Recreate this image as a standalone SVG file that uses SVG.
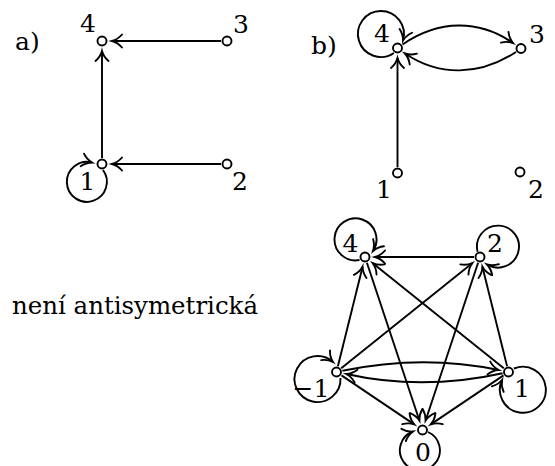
<svg xmlns="http://www.w3.org/2000/svg" width="555" height="466" viewBox="0 0 555 466">
<style>
text{font-family:"DejaVu Serif",serif;font-size:25px;fill:#000}
.lbl{text-anchor:middle}
.e{fill:none;stroke:#000;stroke-width:1.9;marker-end:url(#arr)}
.n{fill:#fff;stroke:#000;stroke-width:1.9}
</style>
<defs>
<marker id="arr" markerUnits="userSpaceOnUse" markerWidth="20" markerHeight="20" viewBox="-12 -10 14 20" refX="0" refY="0" orient="auto" overflow="visible">
<path d="M-10,-6.5 C-7,-3 -3,-0.8 0,0 C-3,0.8 -7,3 -10,6.5" fill="none" stroke="#000" stroke-width="1.9" stroke-linecap="round"/>
</marker>
</defs>
<text x="15" y="50">a)</text>
<text x="311" y="54">b)</text>
<text x="12" y="314" textLength="246" lengthAdjust="spacingAndGlyphs">není antisymetrická</text>
<g id="connectors">
<path class="e" d="M221,41 L112,41"/>
<path class="e" d="M221,164 L112,164"/>
<path class="e" d="M102,158 L102,51"/>
<path class="e" d="M103,170 A20,20 0 1 1 92,162.5"/>
<path class="e" d="M397.5,167 L397.5,58"/>
<path class="e" d="M402.5,44.5 C439,19.5 479,19.5 513,43"/>
<path class="e" d="M516,52 C479,76.3 439,76.3 405,53.5"/>
<path class="e" d="M393.9,53 A23,23 0 1 1 403,40.5"/>
<path class="e" d="M474,257 L375,257"/>
<path class="e" d="M337.9,366.2 L362.6,266.7"/>
<path class="e" d="M341.2,368.2 L472.2,263.2"/>
<path class="e" d="M503.8,368.2 L372.8,263.2"/>
<path class="e" d="M507.1,366.2 L482.4,266.7"/>
<path class="e" d="M366.9,262.7 L419.4,420.5"/>
<path class="e" d="M478.1,262.7 L425.6,420.5"/>
<path class="e" d="M341.5,375.4 L414.2,424.4"/>
<path class="e" d="M503.5,375.4 L430.8,424.4"/>
<path class="e" d="M342.4,370.8 Q422.5,354 498.7,370"/>
<path class="e" d="M502.6,373.2 Q422.5,391 346.3,374"/>
<path class="e" d="M359.5,260 A21,21 0 1 1 373,251"/>
<path class="e" d="M477.6,251.7 A21,21 0 1 1 487,264.5"/>
<path class="e" d="M340.5,378 A23,23 0 1 1 333,362"/>
<path class="e" d="M514,368.5 A23,23 0 1 1 502,380"/>
<path class="e" d="M428,432 A20,20 0 1 1 413,431.5"/>
</g>
<g id="a4"><circle class="n" cx="102" cy="41" r="4.5"/><text class="lbl" x="88" y="32">4</text></g>
<g id="a3"><circle class="n" cx="227" cy="41" r="4.5"/><text class="lbl" x="241" y="33">3</text></g>
<g id="a1"><circle class="n" cx="102" cy="164" r="4.5"/><text class="lbl" x="87.5" y="190">1</text></g>
<g id="a2"><circle class="n" cx="227" cy="164" r="4.5"/><text class="lbl" x="240" y="190">2</text></g>
<g id="b4"><circle class="n" cx="397.5" cy="48" r="4.5"/><text class="lbl" x="382" y="41.5">4</text></g>
<g id="b3"><circle class="n" cx="521" cy="48.5" r="4.5"/><text class="lbl" x="537" y="43">3</text></g>
<g id="b1"><circle class="n" cx="397.5" cy="173" r="4.5"/><text class="lbl" x="384" y="198">1</text></g>
<g id="b2"><circle class="n" cx="520" cy="172" r="4.5"/><text class="lbl" x="536" y="198">2</text></g>
<g id="c4"><circle class="n" cx="365" cy="257" r="4.5"/><text class="lbl" x="350.5" y="252">4</text></g>
<g id="c2"><circle class="n" cx="480" cy="257" r="4.5"/><text class="lbl" x="495" y="252">2</text></g>
<g id="cm1"><circle class="n" cx="336.5" cy="372" r="4.5"/><text class="lbl" x="311" y="397">−1</text></g>
<g id="c1"><circle class="n" cx="508.5" cy="372" r="4.5"/><text class="lbl" x="522" y="397">1</text></g>
<g id="c0"><circle class="n" cx="422.5" cy="430" r="4.5"/><text class="lbl" x="423" y="461">0</text></g>
</svg>
